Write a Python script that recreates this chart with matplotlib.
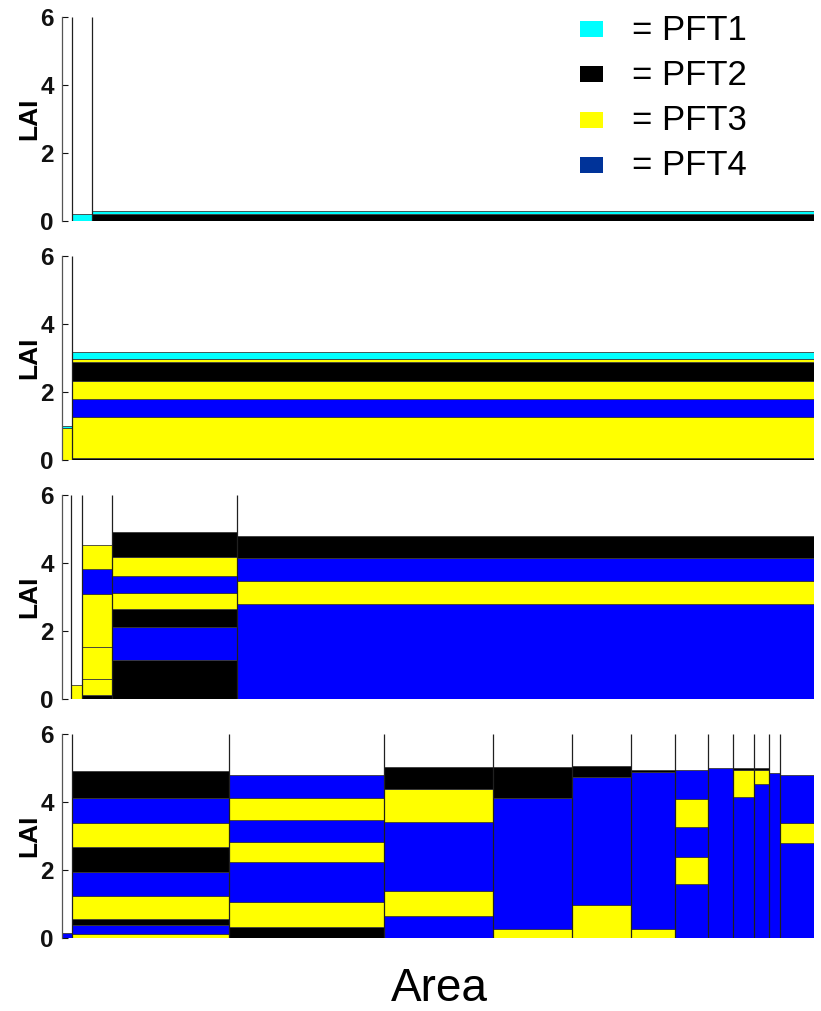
import matplotlib
matplotlib.use("Agg")
import matplotlib.pyplot as plt
from matplotlib import font_manager
from matplotlib.patches import Rectangle

# PFT colours and names (legend swatch for PFT4 is a darker blue than the bars)
PFT_NAMES = ["PFT1", "PFT2", "PFT3", "PFT4"]
PFT_COLORS = {1: "#00ffff", 2: "#000000", 3: "#ffff00", 4: "#0000ff"}
LEGEND_COLORS = ["#00ffff", "#000000", "#ffff00", "#003399"]

# each panel: patch edges along the area axis (% of area),
# then per patch the PFT of each stacked layer and the LAI at the top of that layer
P1_EDGES = [0, 1.3, 4.0, 100]
P1_PFT = [[], [1], [2, 1]]
P1_TOP = [[], [0.22], [0.22, 0.30]]

P2_EDGES = [0, 1.3, 100]
P2_PFT = [[3, 1], [2, 3, 4, 3, 2, 3, 1]]
P2_TOP = [[0.94, 0.99], [0.05, 1.26, 1.80, 2.32, 2.88, 2.98, 3.18]]

P3_EDGES = [0, 1.2, 2.66, 6.65, 23.3, 100]
P3_PFT = [[], [3], [2, 3, 3, 3, 4, 3], [2, 4, 2, 3, 4, 3, 2], [4, 3, 4, 2]]
P3_TOP = [[], [0.41], [0.12, 0.59, 1.53, 3.09, 3.82, 4.52],
          [1.15, 2.13, 2.65, 3.12, 3.63, 4.18, 4.91], [2.79, 3.47, 4.15, 4.79]]

P4_EDGES = [0, 1.33, 22.2, 42.8, 57.3, 67.8, 75.7, 81.5, 85.9, 89.2, 92.0, 94.0, 95.5, 100]
P4_PFT = [[4], [3, 4, 2, 3, 4, 2, 3, 4, 2], [2, 3, 4, 3, 4, 3, 4], [4, 3, 4, 3, 2],
          [3, 4, 2], [3, 4, 2], [3, 4, 2], [4, 3, 4, 3, 4], [4], [4, 3, 2], [4, 3, 2],
          [4], [4, 3, 4]]
P4_TOP = [[0.15], [0.12, 0.38, 0.56, 1.24, 1.93, 2.67, 3.38, 4.11, 4.90],
          [0.32, 1.07, 2.24, 2.83, 3.47, 4.13, 4.79], [0.65, 1.37, 3.41, 4.38, 5.04],
          [0.26, 4.11, 5.04], [0.96, 4.75, 5.07], [0.26, 4.87, 4.95],
          [1.58, 2.38, 3.27, 4.10, 4.94], [5.0], [4.15, 4.95, 5.01], [4.53, 4.95, 5.0],
          [4.84], [2.80, 3.37, 4.80]]

PANELS = [(P1_EDGES, P1_PFT, P1_TOP), (P2_EDGES, P2_PFT, P2_TOP),
          (P3_EDGES, P3_PFT, P3_TOP), (P4_EDGES, P4_PFT, P4_TOP)]
Y_TICKS = [0, 2, 4, 6]

W, H = 821, 1011
AX_LEFT, AX_RIGHT = 62, 814
PANEL_BOTTOM_PX = [221, 460, 699, 938]   # pixel row of LAI = 0 for each panel
PANEL_H_PX = 204


def pick_family(names):
    for n in names:
        try:
            font_manager.findfont(n, fallback_to_default=False)
            return n
        except ValueError:
            continue
    return "DejaVu Sans"


NARROW = pick_family(["Liberation Sans Narrow", "Liberation Sans"])
SANS = pick_family(["Liberation Sans", "Arial", "DejaVu Sans"])


def draw_panel(ax, edges, pfts, tops):
    for i in range(len(edges) - 1):
        left, width = edges[i], edges[i + 1] - edges[i]
        bottom = 0.0
        for pft, top in zip(pfts[i], tops[i]):
            ax.bar(left, top - bottom, width=width, bottom=bottom, align="edge",
                   color=PFT_COLORS[pft], edgecolor="#3a3a3a", linewidth=0.6)
            bottom = top
    # patch boundaries run the full height of the panel
    ax.vlines(edges[1:-1], 0, 6, color="#202020", lw=0.9, zorder=3)
    ax.set_xlim(edges[0], edges[-1])
    ax.set_ylim(0, 6)
    ax.set_yticks(Y_TICKS)
    ax.set_yticklabels([str(t) for t in Y_TICKS], fontsize=17.5, fontweight="bold",
                       family=[NARROW, "DejaVu Sans"])
    ax.tick_params(axis="y", direction="in", length=4, width=0.8, pad=6, colors="#111111")
    ax.set_xticks([])
    for s in ("top", "right", "bottom"):
        ax.spines[s].set_visible(False)
    ax.spines["left"].set_color("#555555")
    ax.spines["left"].set_linewidth(0.9)
    ax.text(-(AX_LEFT - 29) / (AX_RIGHT - AX_LEFT), 0.5, "LAI", rotation=90,
            ha="center", va="center", fontsize=19, fontweight="bold",
            family=[SANS, "DejaVu Sans"], transform=ax.transAxes)


fig = plt.figure(figsize=(W / 100, H / 100), dpi=100, facecolor="white")
for (edges, pfts, tops), ybot in zip(PANELS, PANEL_BOTTOM_PX):
    ax = fig.add_axes([AX_LEFT / W, 1 - ybot / H, (AX_RIGHT - AX_LEFT) / W, PANEL_H_PX / H])
    draw_panel(ax, edges, pfts, tops)

# legend in the top-right corner
for i, (name, col) in enumerate(zip(PFT_NAMES, LEGEND_COLORS)):
    yc = 29 + i * 45.3
    fig.add_artist(Rectangle((580 / W, 1 - (yc + 8) / H), 23 / W, 16 / H,
                             transform=fig.transFigure, facecolor=col, edgecolor="none"))
    fig.text(632 / W, 1 - (yc + 1) / H, f"= {name}", ha="left", va="center",
             fontsize=25, family=[SANS, "DejaVu Sans"])

fig.text(439 / W, 1 - 989 / H, "Area", ha="center", va="center", fontsize=33,
         family=[SANS, "DejaVu Sans"])

fig.savefig("out.png", dpi=100, facecolor="white")
plt.close(fig)
